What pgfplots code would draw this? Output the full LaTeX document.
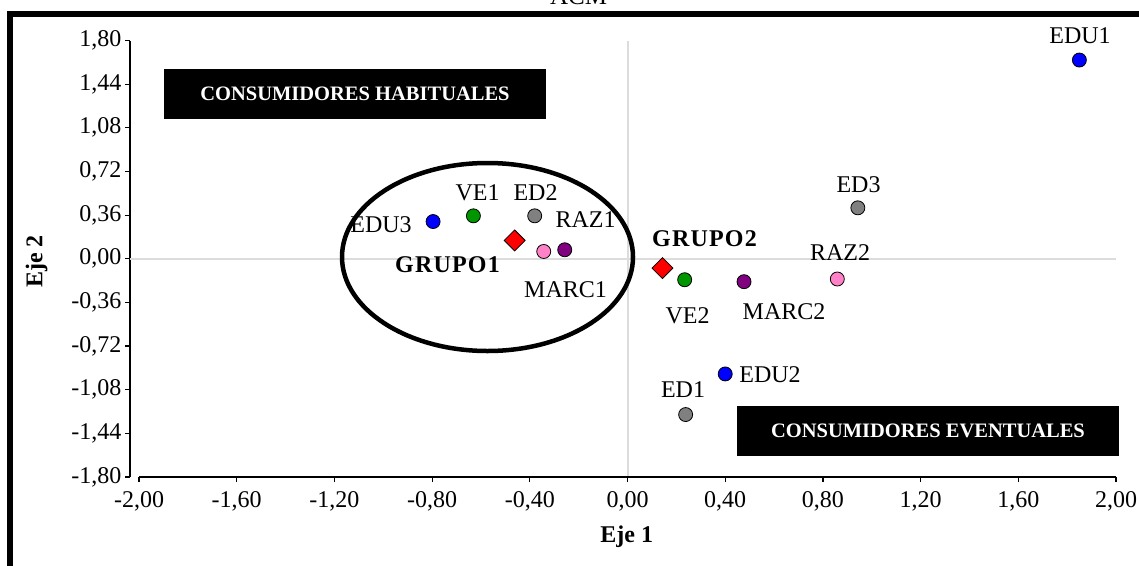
\documentclass[border=0pt]{standalone}
\usepackage{pgfplots}
\pgfplotsset{compat=1.18}
\usepackage{fontspec}
\setmainfont{Liberation Serif}
\newfontfamily\spaced[LetterSpace=5]{Liberation Serif}
\definecolor{cblue}{RGB}{0,0,255}
\definecolor{cgreen}{RGB}{0,150,0}
\definecolor{cgray}{RGB}{128,128,128}
\definecolor{cpink}{RGB}{255,130,200}
\definecolor{cpurple}{RGB}{128,0,128}
\definecolor{cred}{RGB}{255,0,0}
\definecolor{cgrid}{RGB}{220,220,220}
\begin{document}
\begin{tikzpicture}
\useasboundingbox (0pt,0pt) rectangle (1139pt,-565pt);
\clip (0pt,0pt) rectangle (1139pt,-565pt);
\begin{axis}[
  at={(130pt,-477pt)}, anchor=south west,
  scale only axis, width=986pt, height=436.5pt,
  xmin=-2.0369, xmax=2, ymin=-1.8, ymax=1.8,
  axis lines*=left,
  x axis line style={draw=none},
  y axis line style={line width=1.2pt},
  tick align=outside,
  major tick length=5pt,
  tick style={black, line width=1.2pt},
  xtick={-2,-1.6,-1.2,-0.8,-0.4,0,0.4,0.8,1.2,1.6,2},
  ytick={-1.8,-1.44,-1.08,-0.72,-0.36,0,0.36,0.72,1.08,1.44,1.8},
  /pgf/number format/.cd, fixed, fixed zerofill, precision=2, use comma, assume math mode=true,
  /pgfplots/.cd,
  tick label style={font=\fontsize{24}{28}\selectfont},
  xticklabel style={yshift=-6pt},
  extra x ticks={0}, extra y ticks={0},
  extra x tick labels={}, extra y tick labels={},
  extra tick style={grid=major, major grid style={cgrid, line width=2pt}, major tick length=0pt},
  clip=false,
]
\draw[black, line width=1.2pt] (axis cs:-2,-1.8) -- (axis cs:2,-1.8);
% EDU (blue)
\addplot[only marks, mark=*, mark size=7pt, mark options={fill=cblue, draw=black, line width=0.8pt}] coordinates {(1.850,1.639) (0.400,-0.950) (-0.796,0.307)};
% VE (green)
\addplot[only marks, mark=*, mark size=7pt, mark options={fill=cgreen, draw=black, line width=0.8pt}] coordinates {(-0.631,0.354) (0.234,-0.173)};
% ED (gray)
\addplot[only marks, mark=*, mark size=7pt, mark options={fill=cgray, draw=black, line width=0.8pt}] coordinates {(0.238,-1.285) (-0.380,0.354) (0.943,0.420)};
% RAZ (pink)
\addplot[only marks, mark=*, mark size=7pt, mark options={fill=cpink, draw=black, line width=0.8pt}] coordinates {(-0.343,0.060) (0.859,-0.167)};
% MARC (purple)
\addplot[only marks, mark=*, mark size=7pt, mark options={fill=cpurple, draw=black, line width=0.8pt}] coordinates {(-0.257,0.074) (0.477,-0.189)};
% GRUPO (red diamonds)
\addplot[only marks, mark=square*, mark size=7.4pt, mark options={rotate=45, fill=cred, draw=black, line width=0.8pt}] coordinates {(-0.462,0.151) (0.143,-0.077)};
\end{axis}
\begin{scope}[x=1pt, y=-1pt, font=\fontsize{24}{28}\selectfont]
% frame
\draw[line width=6pt] (10,570) -- (10,14) -- (1145,14);
% title
\node[anchor=base, font=\fontsize{25}{29}\selectfont] at (578.5,4) {ACM};
% ellipse
\draw[line width=4.5pt] (487.5,257) ellipse [x radius=145.5, y radius=94];
% boxes
\fill[black] (164,69) rectangle (546,119);
\node[text=white, font=\fontsize{20.5}{24}\selectfont\bfseries] at (355,94) {CONSUMIDORES HABITUALES};
\fill[black] (737,406) rectangle (1119,456);
\node[text=white, font=\fontsize{20.5}{24}\selectfont\bfseries] at (928,431) {CONSUMIDORES EVENTUALES};
% axis titles
\node[anchor=base, font=\fontsize{24}{28}\selectfont\bfseries] at (626.7,542) {Eje 1};
\node[rotate=90, font=\fontsize{24}{28}\selectfont\bfseries] at (36.7,261.5) {Eje 2};
% point labels
\node[anchor=base] at (1080,43) {EDU1};
\node[anchor=base] at (381,232) {EDU3};
\node[anchor=base] at (477.5,200) {VE1};
\node[anchor=base] at (535.5,200) {ED2};
\node[anchor=base] at (585.5,227) {RAZ1};
\node[anchor=base] at (565.5,297) {MARC1};
\node[anchor=base] at (687.5,323) {VE2};
\node[anchor=base] at (784,319) {MARC2};
\node[anchor=base] at (840,260) {RAZ2};
\node[anchor=base] at (858.5,192) {ED3};
\node[anchor=base] at (770,382) {EDU2};
\node[anchor=base] at (683,397) {ED1};
\node[anchor=base, font=\fontsize{24}{28}\spaced\bfseries] at (447.5,272) {GRUPO1};
\node[anchor=base, font=\fontsize{24}{28}\spaced\bfseries] at (704.5,246) {GRUPO2};
\end{scope}
\end{tikzpicture}
\end{document}
